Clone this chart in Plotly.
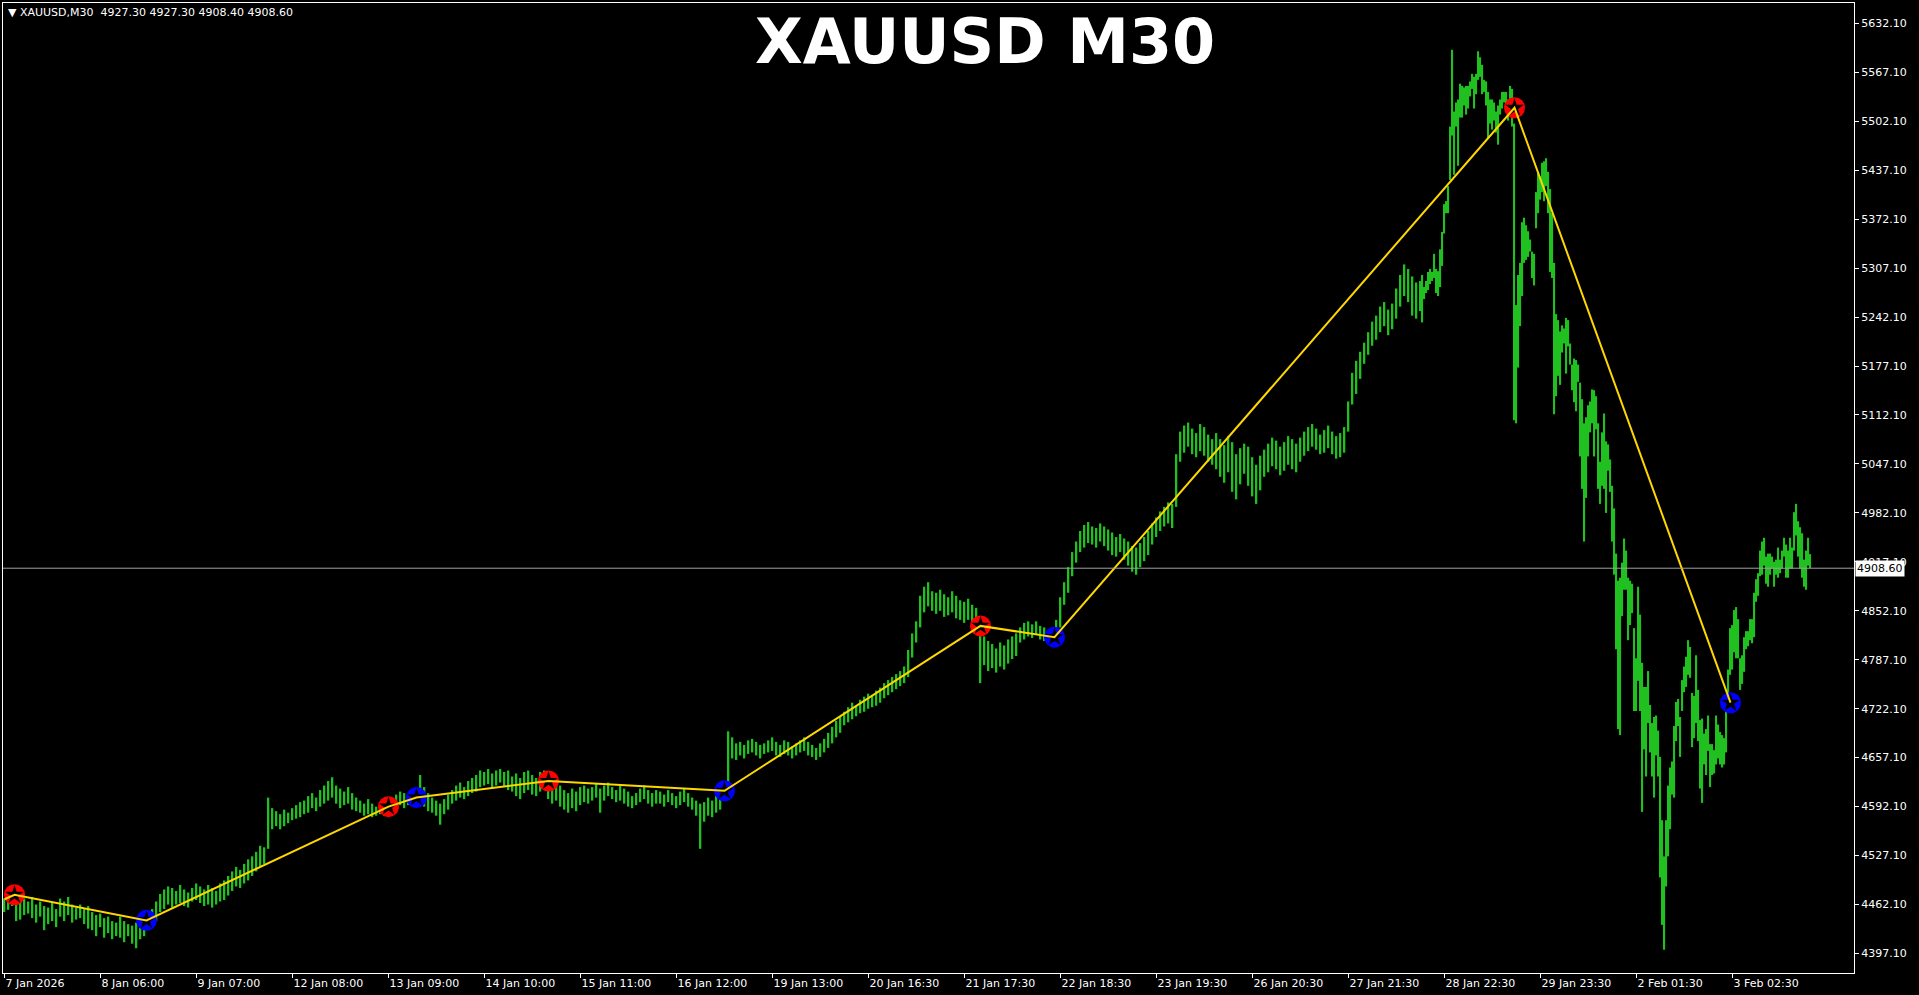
import plotly.graph_objects as go

# ---------------- data ----------------
# M30 bars (high / low). Left part sampled every 2nd bar, right part every bar.
left_high = [
    4470, 4478, 4482, 4474, 4468,
    4470, 4466, 4472, 4462, 4466,
    4460, 4458, 4464, 4456,
    4470, 4466, 4472, 4462, 4458, 4462, 4456, 4460,
    4452, 4448, 4450, 4444, 4446, 4440,
    4438, 4446, 4440, 4436, 4434, 4438, 4444, 4440,
    4448, 4456, 4466, 4476, 4482, 4486,
    4484, 4480, 4488, 4482, 4478, 4484, 4490, 4486, 4482, 4488, 4484, 4480, 4490, 4494, 4500,
    4506, 4512, 4508, 4516, 4522, 4526,
    4532, 4540, 4538,
    4604, 4590, 4586, 4582, 4588, 4584, 4590, 4594, 4598,
    4600, 4606, 4610, 4604, 4614, 4620, 4626, 4631,
    4620, 4616, 4612, 4618, 4610, 4604,
    4600, 4596, 4602, 4596, 4592, 4598, 4594, 4596,
    4604, 4608, 4612, 4610, 4606, 4612, 4608, 4634,
    4618, 4610, 4604, 4600, 4596, 4602, 4608,
    4614, 4620, 4624, 4618, 4626, 4630, 4634,
    4640, 4638, 4642, 4636, 4640, 4642, 4638, 4640, 4632,
    4636, 4630, 4638, 4640, 4634,
    4630, 4638, 4640, 4628, 4622, 4626, 4620,
    4614, 4610, 4616, 4612, 4618, 4620, 4616,
    4618, 4622, 4616, 4620, 4624, 4618, 4614,
    4620, 4616, 4612, 4606, 4610, 4616, 4620, 4614, 4610, 4614,
    4612, 4608, 4614, 4610, 4606, 4612, 4616, 4610, 4604, 4600,
    4596, 4598, 4604, 4600, 4606, 4610, 4614,
    4692, 4684, 4676, 4678, 4674, 4680, 4682, 4678, 4674, 4676, 4680, 4684, 4678, 4674, 4680,
    4678, 4672, 4676, 4680, 4684, 4678, 4674, 4670, 4676, 4682,
    4690, 4698, 4706, 4712,
    4718, 4724, 4730, 4726, 4734, 4738, 4742, 4740, 4746,
    4750, 4756, 4760, 4764, 4768, 4772, 4778,
    4800, 4822, 4838,
    4872, 4884, 4890, 4878,
    4876, 4880, 4874, 4870, 4878, 4872, 4866,
    4864, 4868, 4860, 4856, 4840,
    4818, 4812, 4808, 4802, 4810, 4806, 4814, 4818, 4822,
    4830, 4836, 4838, 4834, 4838, 4832, 4830, 4826, 4822,
    4840, 4870, 4890, 4910,
    4930, 4944, 4958, 4966, 4970, 4964, 4962, 4968,
    4964, 4960, 4956, 4950, 4954,
    4948, 4944, 4938, 4936, 4942, 4950, 4958,
    4968, 4976, 4984, 4990, 4996, 4994,
    5060, 5090, 5098, 5102, 5094, 5088, 5100, 5096, 5086, 5080,
    5088, 5080, 5072, 5084, 5076, 5060, 5068, 5074, 5070, 5056, 5046, 5058,
    5066, 5074, 5082, 5078, 5070, 5076, 5084, 5080, 5074,
    5082, 5090, 5096, 5100, 5094, 5086, 5092, 5098, 5090, 5084, 5088, 5096,
    5130, 5168, 5184,
    5196, 5208, 5222, 5236, 5244, 5256, 5262, 5252, 5260,
    5280, 5298, 5312, 5306, 5296, 5288,
]
left_low = [
    4452, 4455, 4460, 4440, 4442,
    4448, 4450, 4444, 4438, 4446,
    4428, 4436, 4440, 4432,
    4446, 4440, 4448, 4438, 4442, 4444, 4436, 4430,
    4428, 4420, 4432, 4418, 4424, 4416,
    4420, 4418, 4412, 4420, 4410, 4404, 4416, 4420,
    4428, 4434, 4440, 4452, 4456, 4462,
    4458, 4462, 4464, 4460, 4458, 4466, 4468, 4464, 4460, 4462, 4458, 4462, 4466, 4468, 4474,
    4480, 4486, 4484, 4490, 4494, 4500,
    4506, 4512, 4516,
    4536, 4562, 4566, 4562, 4566, 4570, 4574, 4576, 4578,
    4582, 4584, 4590, 4586, 4592, 4596, 4600, 4604,
    4596, 4590, 4594, 4596, 4588, 4586,
    4584, 4580, 4582, 4578, 4580, 4582, 4580, 4584,
    4588, 4590, 4594, 4590, 4594, 4598, 4596, 4598,
    4592, 4586, 4584, 4580, 4568, 4582, 4588,
    4596, 4600, 4604, 4602, 4606, 4610, 4612,
    4618, 4620, 4622, 4616, 4620, 4624, 4618, 4614, 4612,
    4606, 4602, 4610, 4614, 4608,
    4606, 4612, 4616, 4602, 4596, 4600, 4592,
    4588, 4584, 4590, 4586, 4594, 4598, 4596,
    4600, 4604, 4584, 4600, 4606, 4602, 4598,
    4600, 4596, 4592, 4590, 4594, 4598, 4602, 4596, 4592, 4596,
    4596, 4592, 4598, 4594, 4590, 4594, 4598, 4592, 4588, 4580,
    4536, 4572, 4580, 4578, 4584, 4588, 4604,
    4616, 4656, 4654, 4660, 4656, 4662, 4664, 4660, 4656, 4662, 4664, 4666, 4660, 4658, 4662,
    4660, 4656, 4660, 4664, 4666, 4660, 4658, 4654, 4658, 4664,
    4670, 4676, 4684, 4690,
    4700, 4704, 4708, 4712, 4716, 4718, 4722, 4724, 4726,
    4730, 4736, 4740, 4744, 4748, 4752, 4756,
    4764, 4790, 4810,
    4830, 4850, 4858, 4852,
    4848, 4852, 4844, 4846, 4850, 4842, 4840,
    4836, 4840, 4834, 4832, 4756,
    4780, 4772, 4776, 4770, 4778, 4774, 4782, 4788, 4792,
    4810, 4814, 4818, 4816, 4820, 4814, 4812, 4810, 4808,
    4812, 4830, 4860, 4876,
    4898, 4916, 4930, 4936, 4942, 4940, 4936, 4944,
    4938, 4932, 4926, 4924, 4930,
    4920, 4912, 4904, 4900, 4910, 4918, 4926,
    4940, 4950, 4958, 4964, 4968, 4962,
    4990, 5050, 5062, 5070, 5060, 5056, 5064, 5058, 5050, 5046,
    5040, 5030, 5022, 5036, 5010, 5000, 5020, 5034, 5018, 5004, 4994, 5012,
    5030, 5036, 5044, 5040, 5032, 5038, 5046, 5040, 5036,
    5050, 5058, 5064, 5070, 5066, 5060, 5062, 5068, 5060, 5054, 5056, 5062,
    5090, 5126, 5140,
    5160, 5180, 5192, 5204, 5212, 5222, 5230, 5218, 5226,
    5240, 5256, 5270, 5262, 5244, 5240,
]
right_high = [
    5290, 5298, 5282, 5290, 5302, 5306, 5302, 5326, 5306, 5303,
    5332, 5355, 5392, 5396, 5416, 5495, 5597, 5515, 5527, 5531,
    5552, 5549, 5547, 5549, 5549, 5555, 5565, 5561, 5565, 5595,
    5587, 5577, 5557, 5555, 5541, 5531, 5531, 5527, 5515, 5523,
    5531, 5541, 5541, 5541, 5531, 5549, 5545, 5499, 5258, 5298,
    5314, 5368, 5374, 5364, 5356, 5345, 5329, 5326, 5408, 5435,
    5429, 5447, 5449, 5453, 5435, 5412, 5380, 5314, 5246, 5238,
    5223, 5231, 5227, 5241, 5238, 5207, 5179, 5187, 5185, 5179,
    5155, 5133, 5101, 5109, 5125, 5130, 5146, 5145, 5137, 5101,
    5050, 5089, 5114, 5077, 5073, 5053, 5018, 4988, 4928, 4892,
    4896, 4916, 4948, 4932, 4896, 4892, 4888, 4829, 4789, 4884,
    4847, 4783, 4751, 4751, 4772, 4727, 4703, 4711, 4713, 4693,
    4658, 4574, 4526, 4574, 4620, 4644, 4652, 4699, 4731, 4735,
    4711, 4760, 4778, 4791, 4813, 4804, 4743, 4739, 4793, 4747,
    4707, 4709, 4689, 4695, 4713, 4675, 4675, 4667, 4713, 4701,
    4691, 4687, 4683, 4719, 4774, 4829, 4833, 4853, 4857, 4841,
    4789, 4793, 4817, 4825, 4825, 4841, 4841, 4876, 4894, 4902,
    4932, 4944, 4949, 4924, 4928, 4928, 4924, 4917, 4920, 4936,
    4920, 4932, 4949, 4940, 4932, 4949, 4936, 4983, 4994, 4971,
    4963, 4955, 4920, 4932, 4949, 4927.3,
]
right_low = [
    5250, 5235, 5266, 5274, 5278, 5286, 5290, 5294, 5274, 5270,
    5282, 5310, 5353, 5380, 5380, 5424, 5483, 5431, 5495, 5443,
    5507, 5507, 5523, 5511, 5519, 5535, 5545, 5519, 5538, 5557,
    5561, 5538, 5541, 5523, 5479, 5499, 5491, 5503, 5487, 5471,
    5511, 5519, 5527, 5515, 5503, 5511, 5495, 5105, 5101, 5175,
    5230, 5270, 5314, 5318, 5322, 5329, 5294, 5284, 5360, 5380,
    5398, 5408, 5396, 5416, 5380, 5302, 5294, 5113, 5137, 5164,
    5152, 5195, 5207, 5167, 5203, 5179, 5145, 5129, 5117, 5156,
    5057, 5014, 4944, 5002, 5057, 5089, 5101, 5057, 5093, 5014,
    4994, 5018, 5014, 4982, 5038, 5010, 4944, 4900, 4801, 4695,
    4687, 4845, 4880, 4880, 4813, 4833, 4849, 4719, 4719, 4759,
    4719, 4585, 4668, 4632, 4703, 4664, 4632, 4604, 4660, 4632,
    4498, 4435, 4402, 4486, 4526, 4562, 4608, 4604, 4679, 4699,
    4658, 4719, 4744, 4751, 4767, 4763, 4671, 4683, 4703, 4679,
    4616, 4597, 4648, 4634, 4666, 4618, 4634, 4636, 4648, 4656,
    4648, 4644, 4648, 4664, 4727, 4767, 4774, 4797, 4789, 4789,
    4747, 4755, 4771, 4801, 4805, 4813, 4809, 4817, 4864, 4872,
    4898, 4900, 4912, 4888, 4884, 4900, 4908, 4884, 4900, 4896,
    4902, 4908, 4924, 4896, 4896, 4908, 4908, 4932, 4952, 4924,
    4908, 4896, 4884, 4880, 4912, 4908.4,
]
left_index = list(range(0, 708, 2))
right_index = list(range(708, 708 + len(right_high)))

# ZigZag pivots
zz_index = [0, 5, 71, 192, 206, 272, 360, 488, 525, 755, 863]
zz_price = [4469, 4475, 4441, 4592, 4604, 4626, 4613, 4832, 4817, 5520, 4730]
zz_kind = ["", "high", "low", "high", "low", "high", "low", "high", "low", "high", "low"]

# axes
price_ticks = [4397.10, 4462.10, 4527.10, 4592.10, 4657.10, 4722.10, 4787.10,
               4852.10, 4917.10, 4982.10, 5047.10, 5112.10, 5177.10, 5242.10,
               5307.10, 5372.10, 5437.10, 5502.10, 5567.10, 5632.10]
time_tick_index = [0, 48, 96, 144, 192, 240, 288, 336, 384, 432, 480, 528,
                   576, 624, 672, 720, 768, 816, 864]
time_tick_labels = ["7 Jan 2026", "8 Jan 06:00", "9 Jan 07:00", "12 Jan 08:00",
                    "13 Jan 09:00", "14 Jan 10:00", "15 Jan 11:00", "16 Jan 12:00",
                    "19 Jan 13:00", "20 Jan 16:30", "21 Jan 17:30", "22 Jan 18:30",
                    "23 Jan 19:30", "26 Jan 20:30", "27 Jan 21:30", "28 Jan 22:30",
                    "29 Jan 23:30", "2 Feb 01:30", "3 Feb 02:30"]
last_bar = {"open": 4927.30, "high": 4927.30, "low": 4908.40, "close": 4908.60}

# ---------------- figure ----------------
assert len(left_high) == len(left_low) == len(left_index)
assert len(right_high) == len(right_low)

bar_index = left_index + right_index
bar_high = left_high + right_high
bar_low = left_low + right_low
bar_width = [0.8] * len(left_index) + [0.6] * len(right_index)

GREEN = "#20c020"
FONT = "DejaVu Sans"

fig = go.Figure()
fig.add_trace(go.Bar(
    x=bar_index, y=[h - l for h, l in zip(bar_high, bar_low)], base=bar_low,
    width=bar_width, marker=dict(color=GREEN, line=dict(width=0)),
    hoverinfo="skip"))

hi_x = [i for i, k in zip(zz_index, zz_kind) if k == "high"]
hi_y = [p for p, k in zip(zz_price, zz_kind) if k == "high"]
lo_x = [i for i, k in zip(zz_index, zz_kind) if k == "low"]
lo_y = [p for p, k in zip(zz_price, zz_kind) if k == "low"]

fig.add_trace(go.Scatter(x=hi_x, y=hi_y, mode="markers",
                         marker=dict(symbol="circle", size=21, color="#ff0000", line=dict(width=0))))
fig.add_trace(go.Scatter(x=lo_x, y=lo_y, mode="markers",
                         marker=dict(symbol="circle", size=21, color="#0000ff", line=dict(width=0))))
fig.add_trace(go.Scatter(x=hi_x + lo_x, y=hi_y + lo_y, mode="markers",
                         marker=dict(symbol="star", size=14, color="#000000", line=dict(width=0))))
fig.add_trace(go.Scatter(x=zz_index, y=zz_price, mode="lines",
                         line=dict(color="#ffd700", width=2)))

close_price = last_bar["close"]
fig.add_shape(type="line", xref="paper", x0=0, x1=1, yref="y",
              y0=close_price, y1=close_price, line=dict(color="#a0a0a0", width=1))

fig.add_annotation(xref="paper", x=1, xanchor="left", xshift=1, yref="y", y=close_price,
                   text=f"{close_price:.2f}", showarrow=False, bgcolor="#ffffff",
                   font=dict(family=FONT, size=11, color="#000000"), borderpad=1)

fig.add_annotation(xref="paper", x=0.5305, yref="paper", y=0.9600, xanchor="center", yanchor="middle",
                   text="<b>XAUUSD M30</b>", showarrow=False,
                   font=dict(family="DejaVu Sans", size=62, color="#ffffff"))

header = ("\u25bc XAUUSD,M30\u00a0 " + " ".join(f"{last_bar[k]:.2f}" for k in ["open", "high", "low", "close"]))
fig.add_annotation(xref="paper", x=0, xanchor="left", xshift=3, yref="paper", y=0.9897,
                   yanchor="middle", text=header, showarrow=False,
                   font=dict(family=FONT, size=11, color="#ffffff"))

axis_common = dict(showgrid=False, zeroline=False, showline=True, linecolor="#ffffff",
                   linewidth=1, mirror=True, ticks="outside", ticklen=4, tickcolor="#ffffff",
                   tickfont=dict(family=FONT, size=11, color="#ffffff"))

fig.update_layout(
    width=1919, height=995,
    margin=dict(l=3, r=65, t=3, b=22),
    paper_bgcolor="#000000", plot_bgcolor="#000000",
    showlegend=False, barmode="overlay",
    xaxis=dict(range=[-0.75, 924.75], tickmode="array", tickvals=time_tick_index,
               ticktext=time_tick_labels, ticklabelposition="outside right", **axis_common),
    yaxis=dict(range=[4371.1, 5659.1], side="right", tickmode="array", tickvals=price_ticks,
               ticktext=[f"{v:.2f}" for v in price_ticks], **axis_common),
)

fig.write_html(
    "out.html",
    config={"displayModeBar": False},
    post_script="document.body.style.margin='0';document.body.style.padding='0';"
                "document.body.style.overflow='hidden';document.body.style.background='#000';",
)
